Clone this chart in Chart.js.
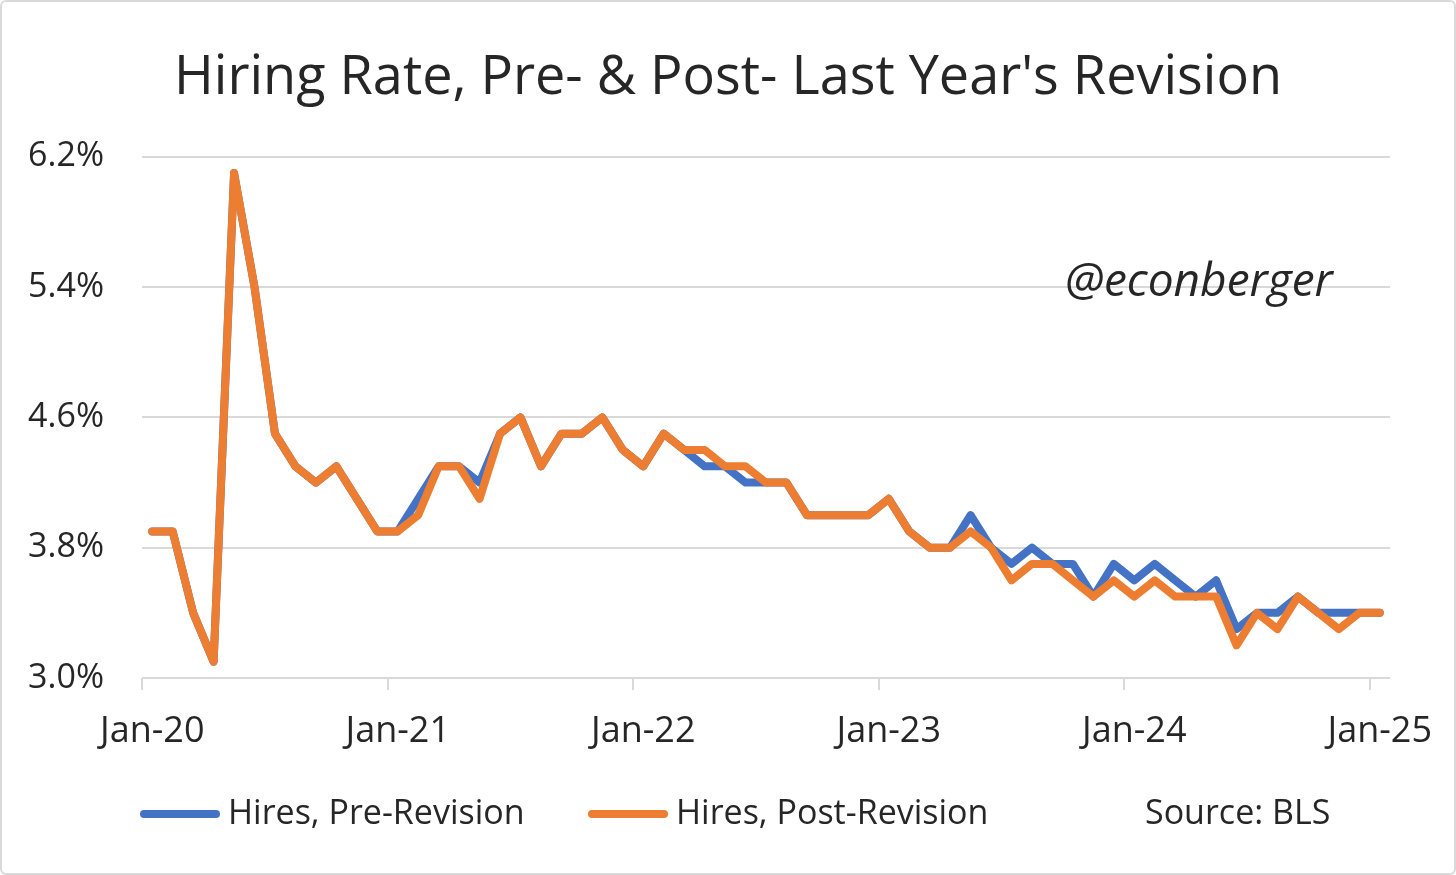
<!DOCTYPE html>
<html>
<head>
<meta charset="utf-8">
<script src="https://cdn.jsdelivr.net/npm/chart.js@4.4.1/dist/chart.umd.min.js"></script>
<style>
    body { margin: 0; background: #fff; }
    #wrap { position: relative; width: 1456px; height: 875px; }
    #frame { position: absolute; left: 0; top: 0; width: 1452px; height: 871px; border: 2px solid #d9d9d9; border-radius: 6px; pointer-events: none; }
</style>
</head>
<body>
<div id="wrap">
    <canvas id="hiresChart" width="1456" height="875"></canvas>
    <div id="frame"></div>
</div>
<script>
// Months Jan-20 .. Jan-25
const monthNames = ['Jan', 'Feb', 'Mar', 'Apr', 'May', 'Jun', 'Jul', 'Aug', 'Sep', 'Oct', 'Nov', 'Dec'];
const years = ['20', '21', '22', '23', '24', '25'];

// Hires rate (%), before the revision
const preRevision = [
    3.9, 3.9, 3.4, 3.1, 6.1, 5.4, 4.5, 4.3, 4.2, 4.3, 4.1, 3.9,
    3.9, 4.1, 4.3, 4.3, 4.2, 4.5, 4.6, 4.3, 4.5, 4.5, 4.6, 4.4,
    4.3, 4.5, 4.4, 4.3, 4.3, 4.2, 4.2, 4.2, 4.0, 4.0, 4.0, 4.0,
    4.1, 3.9, 3.8, 3.8, 4.0, 3.8, 3.7, 3.8, 3.7, 3.7, 3.5, 3.7,
    3.6, 3.7, 3.6, 3.5, 3.6, 3.3, 3.4, 3.4, 3.5, 3.4, 3.4, 3.4,
    3.4
];

// Hires rate (%), after the revision
const postRevision = [
    3.9, 3.9, 3.4, 3.1, 6.1, 5.4, 4.5, 4.3, 4.2, 4.3, 4.1, 3.9,
    3.9, 4.0, 4.3, 4.3, 4.1, 4.5, 4.6, 4.3, 4.5, 4.5, 4.6, 4.4,
    4.3, 4.5, 4.4, 4.4, 4.3, 4.3, 4.2, 4.2, 4.0, 4.0, 4.0, 4.0,
    4.1, 3.9, 3.8, 3.8, 3.9, 3.8, 3.6, 3.7, 3.7, 3.6, 3.5, 3.6,
    3.5, 3.6, 3.5, 3.5, 3.5, 3.2, 3.4, 3.3, 3.5, 3.4, 3.3, 3.4,
    3.4
];

const yTicks = [3.0, 3.8, 4.6, 5.4, 6.2];

const labels = [];
years.forEach(y => monthNames.forEach(m => labels.push(m + '-' + y)));
labels.length = preRevision.length;

const BLUE = '#4472C4';
const ORANGE = '#ED7D31';
const TEXT = '#262626';
const GRID = '#d9d9d9';
const FONT = "'Open Sans', sans-serif";

// Legend, source note and handle, drawn below / inside the plot
const extrasPlugin = {
    id: 'extras',
    afterDraw(chart) {
        const ctx = chart.ctx;
        ctx.save();
        ctx.textBaseline = 'middle';
        ctx.fillStyle = TEXT;

        ctx.font = 'italic 46px ' + FONT;
        ctx.fillText('@econberger', 1065, 283);

        const ly = 814;
        const items = [
            { x: 144, color: BLUE, text: chart.data.datasets[0].label },
            { x: 592, color: ORANGE, text: chart.data.datasets[1].label }
        ];
        ctx.lineCap = 'round';
        ctx.lineWidth = 8;
        ctx.font = '34px ' + FONT;
        items.forEach(it => {
            ctx.strokeStyle = it.color;
            ctx.beginPath();
            ctx.moveTo(it.x, ly);
            ctx.lineTo(it.x + 72, ly);
            ctx.stroke();
            ctx.fillText(it.text, it.x + 84, ly);
        });
        ctx.fillText('Source: BLS', 1145, ly);
        ctx.restore();
    }
};

Chart.defaults.font.family = FONT;
Chart.defaults.color = TEXT;

new Chart(document.getElementById('hiresChart').getContext('2d'), {
    type: 'line',
    data: {
        labels: labels,
        datasets: [{
            label: 'Hires, Pre-Revision',
            data: preRevision,
            borderColor: BLUE,
            order: 2
        }, {
            label: 'Hires, Post-Revision',
            data: postRevision,
            borderColor: ORANGE,
            order: 1
        }]
    },
    options: {
        responsive: false,
        animation: false,
        devicePixelRatio: 1,
        elements: {
            line: { borderWidth: 8, borderCapStyle: 'round', borderJoinStyle: 'round', tension: 0 },
            point: { radius: 0 }
        },
        layout: { padding: 0 },
        plugins: {
            legend: { display: false },
            tooltip: { enabled: false },
            title: {
                display: true,
                text: "Hiring Rate, Pre- & Post- Last Year's Revision",
                font: { size: 54, weight: 'normal' },
                color: TEXT,
                padding: { top: 46, bottom: 46 }
            }
        },
        scales: {
            x: {
                offset: true,
                grid: {
                    offset: true,
                    drawOnChartArea: false,
                    drawTicks: true,
                    tickLength: 12,
                    lineWidth: 2,
                    color: c => (c.index % 12 === 0 ? GRID : 'rgba(0,0,0,0)')
                },
                border: { display: false },
                ticks: {
                    autoSkip: false,
                    maxRotation: 0,
                    padding: 20,
                    font: { size: 36 },
                    color: TEXT,
                    callback: function(v, i) { return i % 12 === 0 ? labels[i] : ''; }
                },
                afterFit: s => { s.height = 875 - 678; }
            },
            y: {
                min: 3.0,
                max: 6.2,
                afterBuildTicks: s => { s.ticks = yTicks.map(v => ({ value: v })); },
                grid: { color: GRID, lineWidth: 2, drawTicks: false },
                border: { display: false },
                ticks: {
                    padding: 38,
                    font: { size: 34 },
                    color: TEXT,
                    callback: v => v.toFixed(1) + '%'
                },
                afterFit: s => { s.width = 142; }
            },
            // empty right-hand margin so the title centres on the full width
            yRight: {
                position: 'right',
                min: 3.0,
                max: 6.2,
                grid: { drawOnChartArea: false, drawTicks: false },
                border: { display: false },
                ticks: { display: false },
                afterFit: s => { s.width = 66; }
            }
        }
    },
    plugins: [extrasPlugin]
});
</script>
</body>
</html>
